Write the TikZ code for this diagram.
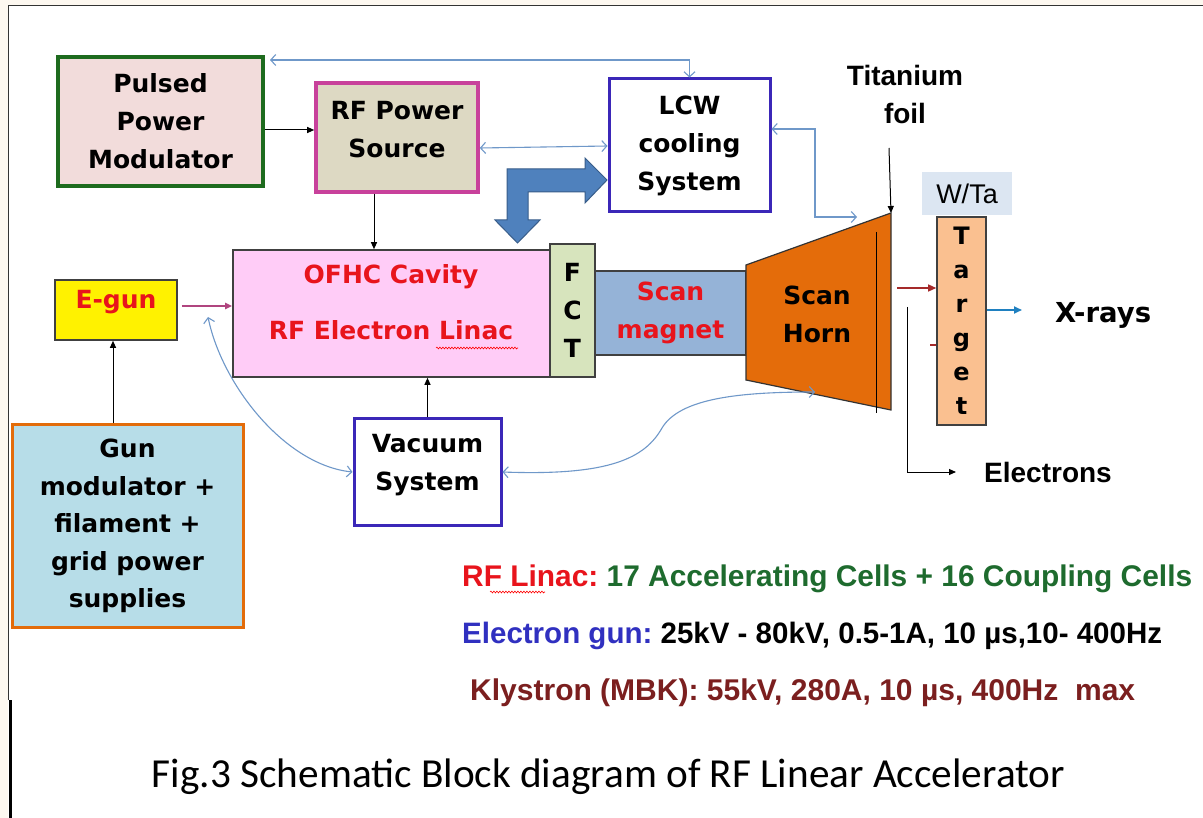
\documentclass[tikz,border=0pt]{standalone}
\usepackage{fontspec}
\usetikzlibrary{arrows.meta,decorations.pathmorphing}
\newfontfamily\cfont{DejaVu Sans}
\newfontfamily\afont{Liberation Sans}
\newfontfamily\calfont{Carlito}
\definecolor{cream}{HTML}{FDF8F0}
\definecolor{pgreen}{HTML}{1E6B1E}
\definecolor{ppink}{HTML}{F2DCDB}
\definecolor{rfmag}{HTML}{C8419B}
\definecolor{rftan}{HTML}{DDD9C3}
\definecolor{indig}{HTML}{3B27B8}
\definecolor{linpink}{HTML}{FFCCF7}
\definecolor{fctg}{HTML}{D7E4BD}
\definecolor{scanb}{HTML}{95B3D7}
\definecolor{horno}{HTML}{E46C0A}
\definecolor{targo}{HTML}{FAC090}
\definecolor{wtab}{HTML}{DCE6F2}
\definecolor{gunb}{HTML}{B7DDE8}
\definecolor{gunor}{HTML}{E36C0A}
\definecolor{tred}{HTML}{E8141C}
\definecolor{lblue}{HTML}{6F98C9}
\definecolor{bigb}{HTML}{4F81BD}
\definecolor{bigbd}{HTML}{385D8A}
\definecolor{egmag}{HTML}{B0457F}
\definecolor{xblue}{HTML}{1F80C0}
\definecolor{dred}{HTML}{A52A2A}
\definecolor{sgreen}{HTML}{1E6B2E}
\definecolor{sblue}{HTML}{3030C0}
\definecolor{kbrown}{HTML}{7B1F1F}
\tikzset{
  box/.style={draw, line width=3.6pt, inner sep=0pt, align=center,
    font=\cfont\bfseries\fontsize{25}{38}\selectfont},
  thinbox/.style={draw=black!75, line width=1.6pt, inner sep=0pt, align=center,
    font=\cfont\bfseries\fontsize{25}{38}\selectfont},
  lab/.style={inner sep=0pt, align=center, font=\cfont\bfseries\fontsize{25}{38}\selectfont},
  blk/.style={draw=black, line width=1pt, arrows={-Triangle[length=7pt,width=6pt]}},
  bl/.style={draw=lblue, line width=1.1pt,
    arrows={Straight Barb[length=5pt,width=11pt]-Straight Barb[length=5pt,width=11pt]}},
  mgarrow/.style={draw=egmag, line width=1.8pt, arrows={-Triangle[length=7pt,width=6pt]}},
  redarr/.style={draw=dred, line width=1.4pt, arrows={-Triangle[length=8pt,width=7pt]}},
  xarr/.style={draw=xblue, line width=1.8pt, arrows={-Triangle[length=8pt,width=7pt]}},
  wavy/.style={draw=red, line width=0.6pt, decorate,
    decoration={snake, amplitude=0.9pt, segment length=3pt}}
}
\begin{document}
\begin{tikzpicture}[x=1pt,y=-1pt]
\useasboundingbox (0,0) rectangle (1203,818);
% frame
\fill[cream] (0,0) rectangle (1203,818);
\fill[white] (8,6) rectangle (1203,818);
\draw[black!80, line width=1pt] (8,700) -- (8,6) -- (1203,6);
\draw[black, line width=3pt] (10,700) -- (10,818);

% boxes
\node[box, draw=pgreen, fill=ppink, minimum width=205pt, minimum height=129pt]
  (pulsed) at (160.5,121.5) {Pulsed\\Power\\Modulator};
\node[box, draw=rfmag, fill=rftan, minimum width=162pt, minimum height=109pt]
  (rfps) at (397,137.5) {};
\node[lab] (rfpsT) at ([yshift=8pt]rfps.center) {RF Power\\Source};
\node[box, draw=indig, line width=3pt, fill=white, minimum width=161pt, minimum height=133pt]
  (lcw) at (689.5,145.5) {LCW\\cooling\\System};
\node[thinbox, fill=yellow, minimum width=122pt, minimum height=60pt]
  (egun) at (116,310) {};
\node[lab, text=tred] (egunT) at ([yshift=8pt]egun.center) {E-gun};
\node[box, draw=gunor, line width=3pt, fill=gunb, minimum width=231pt, minimum height=202pt,
  font=\cfont\bfseries\fontsize{25}{37.5}\selectfont]
  (gunmod) at (127.5,526) {Gun\\modulator +\\filament +\\grid power\\supplies};
\node[thinbox, fill=linpink, minimum width=317pt, minimum height=127pt]
  (linac) at (391.5,313.5) {};
\node[lab, text=tred] (linacT1) at (391,277) {OFHC Cavity};
\node[lab, text=tred] (linacT2) at (391,330) {RF Electron Linac};
\draw[wavy] (436,348) -- (518,348);
\node[thinbox, fill=fctg, minimum width=45pt, minimum height=133pt]
  (fct) at (572.5,310.5) {F\\C\\T};
\node[thinbox, fill=scanb, text=tred, minimum width=151pt, minimum height=84pt]
  (scan) at (670.5,313) {Scan\\magnet};
\node[box, draw=indig, line width=3pt, fill=white, minimum width=147pt, minimum height=106pt]
  (vac) at (427.5,472) {};
\node[lab] (vacT) at ([yshift=7pt]vac.center) {Vacuum\\System};

% scan horn
\coordinate (hTL) at (746,265);
\coordinate (hTR) at (891,213);
\coordinate (hBR) at (891,410);
\coordinate (hBL) at (746,380);
\draw[fill=horno, draw=black!80, line width=1.2pt] (hTL) -- (hTR) -- (hBR) -- (hBL) -- cycle;
\draw[black, line width=1pt] (876,232) -- (876,413);
\node[lab] (hornT) at (817,314) {Scan\\Horn};

% target
\node[thinbox, fill=targo, minimum width=49pt, minimum height=208pt,
  font=\cfont\bfseries\fontsize{24}{34}\selectfont]
  (target) at (961.5,321) {T\\a\\r\\g\\e\\t};
\node[fill=wtab, minimum width=90pt, minimum height=43pt, inner sep=0pt,
  font=\afont\fontsize{27}{30}\selectfont] (wta) at (967,193.5) {W/Ta};

% big bent arrow
\draw[fill=bigb, draw=bigbd, line width=1pt]
  (495,220) -- (507,220) -- (507,169) -- (585,169) -- (585,158) -- (607,180)
  -- (585,203) -- (585,192) -- (528,192) -- (528,220) -- (540,220) -- (517.5,243) -- cycle;

% labels
\node[inner sep=0pt, align=center, font=\afont\bfseries\fontsize{28}{38}\selectfont]
  (ti) at (905,94) {Titanium\\foil};
\node[anchor=west, inner sep=0pt, font=\cfont\bfseries\fontsize{27.5}{34}\selectfont]
  (xr) at (1055,315) {X-rays};
\node[anchor=west, inner sep=0pt, font=\afont\bfseries\fontsize{28}{34}\selectfont]
  (elec) at (984,472) {Electrons};

% black connectors
\draw[blk] (pulsed.east |- 0,130) -- (rfps.west |- 0,130);
\draw[blk] (rfps.south -| 374,0) -- (linac.north -| 374,0);
\draw[blk] (vac.north) -- (vac.north |- linac.south);
\draw[blk] (gunmod.north -| 113,0) -- (egun.south -| 113,0);
\draw[mgarrow, shorten <=4pt] (egun.east |- 0,306) -- (linac.west |- 0,306);
\coordinate (tiA) at (889,148);
\draw[blk] (tiA) -- (hTR);

% blue thin connectors
\coordinate (topL) at (270,60);
\draw[bl] (topL) -- (lcw.north |- topL) -- (lcw.north);
\draw[bl] (rfps.east |- 0,148) -- (lcw.west |- 0,146);
\coordinate (lcwH) at (857,217);
\draw[bl] (lcw.east |- 0,129) -- (815,129) -- (815,217) -- (lcwH);
\coordinate (gunarr) at (208,317);
\draw[bl] (gunarr) .. controls (222,385) and (285,465) .. (vac.west);
\coordinate (hornarr) at (815,392);
\draw[bl] (vac.east) .. controls (610,476) and (645,458) .. (662,428)
  .. controls (680,398) and (740,392) .. (hornarr);

% beam to target
\coordinate (ra) at (897,288);
\draw[redarr] (ra) -- (target.west |- ra);
\draw[dred, line width=2.4pt] (930,345) -- (target.west |- 0,345);
\coordinate (e1) at (907,307);
\draw[blk] (e1) |- ([xshift=-28pt]elec.west);
\draw[xarr] (target.east |- 0,310) -- ([xshift=-33pt]xr.west |- 0,310);

% specifications
\node[anchor=base west, inner sep=0pt] (spec1) at (462,586)
  {\resizebox{730pt}{!}{\afont\bfseries\fontsize{30}{36}\selectfont\textcolor{tred}{RF Linac:}\ \textcolor{sgreen}{17 Accelerating Cells + 16 Coupling Cells}}};
\draw[wavy] (490,592) -- (545,592);
\node[anchor=base west, inner sep=0pt] (spec2) at (462,643)
  {\resizebox{700pt}{!}{\afont\bfseries\fontsize{30}{36}\selectfont\textcolor{sblue}{Electron gun:}\ \textcolor{black}{25kV - 80kV, 0.5-1A, 10 µs,10- 400Hz}}};
\node[anchor=base west, inner sep=0pt] (spec3) at (470,700)
  {\resizebox{665pt}{!}{\afont\bfseries\fontsize{30}{36}\selectfont\textcolor{kbrown}{Klystron (MBK): 55kV, 280A, 10 µs, 400Hz\ \ max}}};

% caption
\node[anchor=base, inner sep=0pt] (cap) at (608.5,787)
  {\resizebox{913pt}{!}{\calfont\fontsize{40}{48}\selectfont Fig.3 Schematic Block diagram of RF Linear Accelerator}};
\end{tikzpicture}
\end{document}
